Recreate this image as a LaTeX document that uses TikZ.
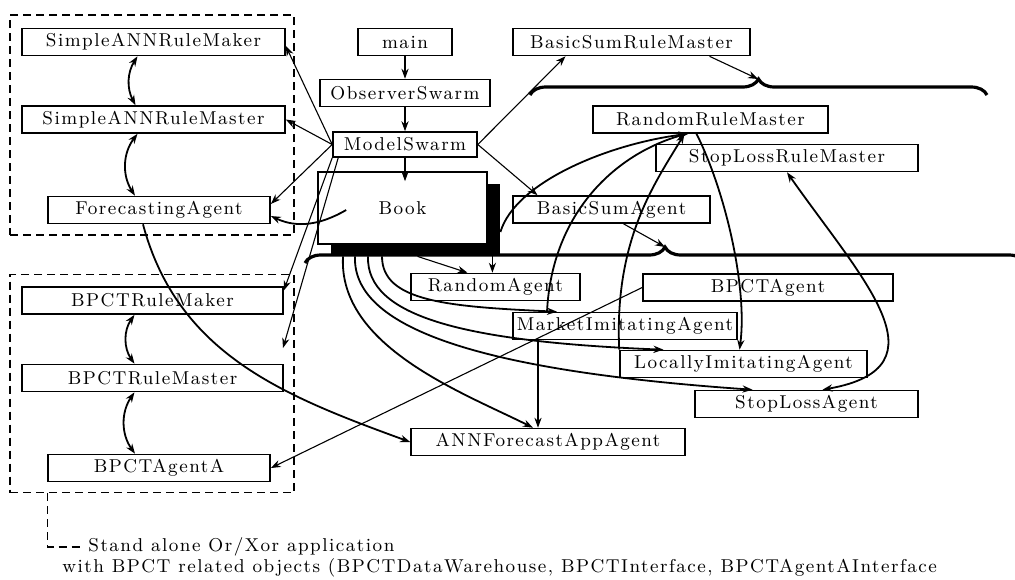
\documentclass[tikz,border=0pt]{standalone}
\usepackage{fontspec}
\setmainfont{Latin Modern Roman}[LetterSpace=8]
\usetikzlibrary{arrows.meta,decorations.pathreplacing}

\tikzset{
  cls/.style={draw, line width=.8pt, fill=white, inner sep=0pt,
    minimum height=13.5pt, font=\fontsize{9.3}{11}\selectfont},
  grp/.style={draw, dash pattern=on 4pt off 2.5pt, line width=.7pt, inner sep=0pt},
  grpline/.style={dash pattern=on 4pt off 2.5pt, line width=.7pt},
  thinline/.style={line width=.55pt},
  curveline/.style={line width=.9pt},
  bracket/.style={line width=1.6pt, decorate, decoration={brace, amplitude=8pt}},
  note/.style={anchor=west, inner sep=0pt, font=\fontsize{9.3}{11}\selectfont},
}

\begin{document}
\begin{tikzpicture}[x=0.5pt, y=0.5pt, >={Stealth[length=5pt, width=3.6pt]}]

  \useasboundingbox (0,0) rectangle (1015,-579);

  %% dashed groups
  \node[grp, minimum width=142pt, minimum height=110pt] (annGroup) at (152,-125) {};
  \node[grp, minimum width=142pt, minimum height=109pt] (bpGroup) at (152,-383.5) {};

  %% left column
  \node[cls, minimum width=131.5pt] (sarMaker)  at (153.5,-42)    {SimpleANNRuleMaker};
  \node[cls, minimum width=131.5pt] (sarMaster) at (153.5,-119.5) {SimpleANNRuleMaster};
  \node[cls, minimum width=111pt]   (fcAgent)   at (159,-210)     {ForecastingAgent};
  \node[cls, minimum width=130.5pt] (bpMaker)   at (152.5,-300.5) {BPCTRuleMaker};
  \node[cls, minimum width=130.5pt] (bpMaster)  at (152.5,-378)   {BPCTRuleMaster};
  \node[cls, minimum width=111pt]   (bpAgentA)  at (159,-468)     {BPCTAgentA};

  %% middle column
  \node[cls, minimum width=47pt] (mainNode) at (405,-42) {main};
  \node[cls, minimum width=85pt] (obsSwarm) at (405,-93) {ObserverSwarm};
  \node[cls, minimum width=72pt, minimum height=12.5pt] (modelSwarm) at (405,-144.5) {ModelSwarm};
  \node[fill=black, inner sep=0pt, minimum width=84.5pt, minimum height=36pt] (bookShadow) at (415.5,-220) {};
  \node[cls, minimum width=84.5pt, minimum height=36pt] (book) at (402.5,-208) {Book};

  %% right side
  \node[cls, minimum width=118.5pt] (bsrm)      at (631.5,-42)    {BasicSumRuleMaster};
  \node[cls, minimum width=117.5pt] (rrm)       at (710.5,-119.5) {RandomRuleMaster};
  \node[cls, minimum width=131pt]   (slrm)      at (787,-158)     {StopLossRuleMaster};
  \node[cls, minimum width=98.5pt]  (bsAgent)   at (611.5,-209.5) {BasicSumAgent};
  \node[cls, minimum width=84.5pt]  (randAgent) at (495.5,-287)   {RandomAgent};
  \node[cls, minimum width=125pt]   (bpAgent)   at (768,-287.5)   {BPCTAgent};
  \node[cls, minimum width=112pt]   (mktAgent)  at (625,-326)     {MarketImitatingAgent};
  \node[cls, minimum width=123.5pt] (locAgent)  at (743.5,-364)   {LocallyImitatingAgent};
  \node[cls, minimum width=111.5pt] (slAgent)   at (806.5,-404)   {StopLossAgent};
  \node[cls, minimum width=137pt]   (annApp)    at (548,-442)     {ANNForecastAppAgent};

  %% braces
  \draw[bracket] (530,-95) -- (987,-95);
  \coordinate (topTip) at (758,-79);
  \draw[bracket] (305,-263) -- (1025,-263);
  \coordinate (lowTip) at (665,-247);

  %% main chain
  \draw[->, thinline] (mainNode) -- (obsSwarm);
  \draw[->, thinline] (obsSwarm) -- (modelSwarm);
  \draw[->, thinline] (modelSwarm) -- ([xshift=1.25pt,yshift=-5pt]book.north);

  %% ModelSwarm -> left column
  \draw[->, thinline] (modelSwarm.west) -- ([yshift=-2pt]sarMaker.east);
  \draw[->, thinline] (modelSwarm.west) -- (sarMaster.east);
  \draw[->, thinline] (modelSwarm.west) -- ([yshift=3pt]fcAgent.east);
  \draw[->, thinline] (modelSwarm.south west) -- ([yshift=5pt]bpMaker.east);
  \coordinate (bpHook) at (283,-348);
  \draw[->, thinline] ([xshift=3pt]modelSwarm.south west) -- (bpHook);

  %% ModelSwarm -> BasicSum
  \draw[->, thinline] (modelSwarm.east) -- ([xshift=-33pt]bsrm.south);
  \draw[->, thinline] (modelSwarm.east) -- ([xshift=-37pt]bsAgent.north);
  \draw[->, thinline] ([xshift=39pt]bsrm.south) -- (topTip);
  \draw[->, thinline] ([xshift=6pt]bsAgent.south) -- (lowTip);

  %% inside the groups
  \draw[<->, curveline] ([xshift=-8pt]sarMaker.south) to[bend right=30] ([xshift=-9pt]sarMaster.north);
  \draw[<->, curveline] ([xshift=-8pt]sarMaster.south) to[bend right=35] ([xshift=-12pt]fcAgent.north);
  \draw[<->, curveline] ([xshift=-9pt]bpMaker.south) to[bend right=35] ([xshift=-9pt]bpMaster.north);
  \draw[<->, curveline] ([xshift=-9pt]bpMaster.south) to[bend right=35] ([xshift=-12pt]bpAgentA.north);

  \draw[->, curveline] ([xshift=14.5pt,yshift=-1pt]book.west) to[out=-150, in=-25] ([yshift=-3pt]fcAgent.east); %% Book->ForecastingAgent
  \draw[->, curveline] ([xshift=-8pt]fcAgent.south) to[out=-75, in=160] (annApp.west);
  \draw[->, thinline] (bpAgent.west) -- (bpAgentA.east);

  %% Book -> agents
  \draw[->, thinline] ([xshift=1pt]bookShadow.south) -- ([xshift=-14pt]randAgent.north);
  \draw[->, thinline] ([xshift=-4pt]bookShadow.south east) -- ([xshift=-4pt]bookShadow.south east |- randAgent.north);
  \draw[->, curveline] ([xshift=-16.75pt]bookShadow.south) .. controls +(0,-45) and +(-110,5) .. ([xshift=-34pt]mktAgent.north);
  \draw[->, curveline] ([xshift=-23.75pt]bookShadow.south) .. controls +(-2,-60) and +(-200,8) .. ([xshift=-40pt]locAgent.north);
  \draw[->, curveline] ([xshift=-30.25pt]bookShadow.south) .. controls +(-3,-75) and +(-260,18) .. ([xshift=-27pt]slAgent.north);
  \draw[->, curveline] ([xshift=-36.25pt]bookShadow.south) .. controls +(-5,-90) and +(-70,35) .. ([xshift=-7.5pt]annApp.north);
  \draw[->, thinline] ([xshift=-43.5pt]mktAgent.south) -- ([xshift=-43.5pt]mktAgent.south |- annApp.north);

  %% RandomRuleMaster
  \draw[->, curveline] ([yshift=-6pt]bookShadow.east) .. controls +(15,50) and +(-80,-10) .. ([xshift=-11pt]rrm.south);
  \draw[->, curveline] ([xshift=-39pt]mktAgent.north) .. controls +(5,100) and +(-70,-20) .. ([xshift=-12pt]rrm.south);
  \draw[->, curveline] (locAgent.north west) .. controls +(-5,110) and +(-30,-50) .. ([xshift=-13pt]rrm.south);
  \draw[->, curveline] ([xshift=-7pt]rrm.south) .. controls +(30,-60) and +(8,60) .. ([xshift=-2pt]locAgent.north);

  %% StopLoss
  \draw[<->, curveline] (slrm.south) to[out=-55, in=10, looseness=1.5] ([xshift=8pt]slAgent.north);

  %% caption
  \node[note] (standAlone) at (88,-547) {Stand alone Or/Xor application};
  \node[note] (withBpct) at (62,-568) {with BPCT related objects (BPCTDataWarehouse, BPCTInterface, BPCTAgentAInterface};
  \draw[grpline] ([xshift=19pt]bpGroup.south west) |- ([xshift=-2pt]standAlone.west);

\end{tikzpicture}
\end{document}
